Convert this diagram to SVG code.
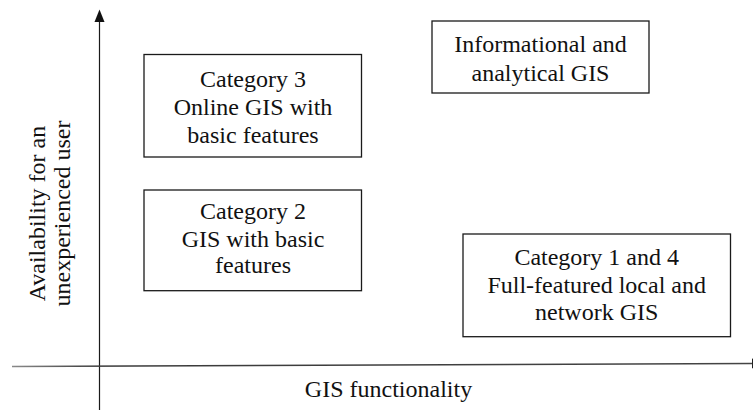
<svg xmlns="http://www.w3.org/2000/svg" width="753" height="410" viewBox="0 0 753 410">
  <style>
    .box { fill: #ffffff; stroke: #1a1a1a; stroke-width: 1.3; }
    .lbl { font-size: 24px; fill: #111111; text-anchor: middle; }
    .axis { stroke: #1a1a1a; stroke-width: 1.2; fill: none; }
  </style>
  <defs>
    <linearGradient id="xAxisFade" gradientUnits="userSpaceOnUse" x1="12" y1="0" x2="752" y2="0">
      <stop offset="0" stop-color="#8a8a8a"/>
      <stop offset="0.12" stop-color="#3a3a3a"/>
      <stop offset="1" stop-color="#444444"/>
    </linearGradient>
  </defs>

  <rect width="753" height="410" fill="#ffffff"/>

  <!-- axes -->
  <g id="connectors">
    <line class="axis" x1="99.5" y1="21" x2="99.5" y2="410"/>
    <polygon points="99.5,9.5 104.5,22 94.5,22" fill="#111111"/>
    <line x1="12" y1="366.5" x2="752" y2="363.4" stroke="url(#xAxisFade)" stroke-width="1.5"/>
    <polygon points="752,358.4 764,363.4 752,368.4" fill="#222222"/>
  </g>

  <!-- axis titles -->
  <g id="axis-y-title">
    <text class="lbl" font-family="Liberation Serif" transform="translate(45,213.5) rotate(-90)">Availability for an</text>
    <text class="lbl" font-family="Liberation Serif" transform="translate(70,213.5) rotate(-90)">unexperienced user</text>
  </g>
  <g id="axis-x-title">
    <text class="lbl" font-family="Liberation Serif" x="388.5" y="396.7">GIS functionality</text>
  </g>

  <!-- quadrants -->
  <g id="category-3">
    <rect class="box" x="144" y="54.5" width="217.5" height="102.5"/>
    <text class="lbl" font-family="Liberation Serif" x="253" y="87.3">Category 3</text>
    <text class="lbl" font-family="Liberation Serif" x="253" y="115">Online GIS with</text>
    <text class="lbl" font-family="Liberation Serif" x="253" y="142.7">basic features</text>
  </g>

  <g id="informational-analytical">
    <rect class="box" x="432" y="21" width="217" height="72"/>
    <text class="lbl" font-family="Liberation Serif" x="540.5" y="52.3">Informational and</text>
    <text class="lbl" font-family="Liberation Serif" x="540.5" y="80.7">analytical GIS</text>
  </g>

  <g id="category-2">
    <rect class="box" x="144" y="190" width="217.5" height="100.7"/>
    <text class="lbl" font-family="Liberation Serif" x="253" y="219.3">Category 2</text>
    <text class="lbl" font-family="Liberation Serif" x="253" y="246.7">GIS with basic</text>
    <text class="lbl" font-family="Liberation Serif" x="253" y="272.7">features</text>
  </g>

  <g id="category-1-4">
    <rect class="box" x="463" y="234" width="267.5" height="102.7"/>
    <text class="lbl" font-family="Liberation Serif" x="596.7" y="265">Category 1 and 4</text>
    <text class="lbl" font-family="Liberation Serif" x="596.7" y="292.7">Full-featured local and</text>
    <text class="lbl" font-family="Liberation Serif" x="596.7" y="320">network GIS</text>
  </g>
</svg>
